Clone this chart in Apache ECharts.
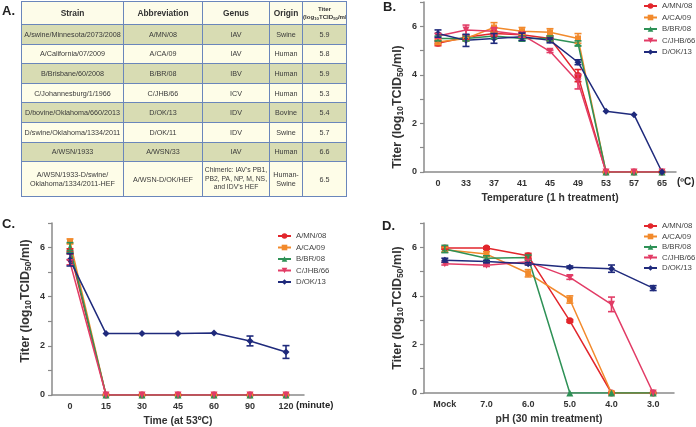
<!DOCTYPE html>
<html>
<head>
<meta charset="utf-8">
<script src="https://cdn.jsdelivr.net/npm/echarts@6/dist/echarts.min.js"></script>
<style>
  html, body { margin: 0; padding: 0; background: #fff; }
  #chart { position: absolute; left: 0; top: 0; width: 696px; height: 427px; }
  #tbl { position: absolute; left: 21px; top: 1px; width: 325px; border-collapse: collapse; table-layout: fixed;
         font-family: 'Liberation Sans', Arial, sans-serif; color: #3a3a3a; font-size: 7.2px;
         border: 1.5px solid #6a86bb; }
  #tbl td, #tbl th { border: 1px solid #6a86bb; text-align: center; padding: 0; line-height: 1.25; white-space: pre; overflow: hidden; }
  #tbl th { background: #fdfce9; font-weight: bold; font-size: 8.4px; height: 22px; color: #333; }
  #tbl th.titer { font-size: 6.1px; line-height: 1.2; }
  #tbl td.small { font-size: 6.8px; }
  #tbl sub { font-size: 70%; vertical-align: -1px; }
  #tbl tr.odd td { background: #d8dcb3; }
  #tbl tr.even td { background: #fefde8; }
  #tbl td { height: 18.6px; }
  #tbl tr.tall td { height: 34px; }
</style>
</head>
<body>
<div id="chart"></div>
<table id="tbl"></table>
<script>
// ---- Panel A table ----
var tableHeads = ['Strain', 'Abbreviation', 'Genus', 'Origin', 'Titer\n(log<sub>10</sub>TCID<sub>50</sub>/ml)'];
var colWidths = [102, 79, 67, 33, 44];
var strains = ['A/swine/Minnesota/2073/2008', 'A/California/07/2009', 'B/Brisbane/60/2008', 'C/Johannesburg/1/1966',
  'D/bovine/Oklahoma/660/2013', 'D/swine/Oklahoma/1334/2011', 'A/WSN/1933', 'A/WSN/1933-D/swine/\nOklahoma/1334/2011-HEF'];
var abbrevs = ['A/MN/08', 'A/CA/09', 'B/BR/08', 'C/JHB/66', 'D/OK/13', 'D/OK/11', 'A/WSN/33', 'A/WSN-D/OK/HEF'];
var genera = ['IAV', 'IAV', 'IBV', 'ICV', 'IDV', 'IDV', 'IAV', "Chimeric: IAV's PB1,\nPB2, PA, NP, M, NS,\nand IDV's HEF"];
var origins = ['Swine', 'Human', 'Human', 'Human', 'Bovine', 'Swine', 'Human', 'Human-\nSwine'];
var titers = ['5.9', '5.8', '5.9', '5.3', '5.4', '5.7', '6.6', '6.5'];

(function() {
  var t = document.getElementById('tbl');
  var html = '<colgroup>' + colWidths.map(function(w) { return '<col style="width:' + w + 'px">'; }).join('') + '</colgroup>';
  html += '<tr>' + tableHeads.map(function(h, i) {
    return '<th' + (i === 4 ? ' class="titer"' : '') + '>' + h + '</th>';
  }).join('') + '</tr>';
  strains.forEach(function(s, i) {
    var last = i === strains.length - 1;
    var cls = (i % 2 === 0 ? 'odd' : 'even') + (last ? ' tall' : '');
    html += '<tr class="' + cls + '"><td>' + s + '</td><td>' + abbrevs[i] + '</td><td' + (last ? ' class="small"' : '') + '>' +
      genera[i] + '</td><td>' + origins[i] + '</td><td>' + titers[i] + '</td></tr>';
  });
  t.innerHTML = html;
})();

// ---- Panels B, C, D ----
var names = ['A/MN/08', 'A/CA/09', 'B/BR/08', 'C/JHB/66', 'D/OK/13'];
var colors = ['#e2262c', '#f28a2c', '#2e9156', '#e23c66', '#1f2a7c'];
var symbols = ['circle', 'rect', 'triangle', 'triangle', 'diamond'];
var symbolRot = [0, 0, 0, 180, 0];

// B: temperature
var tempCats = ['0', '33', '37', '41', '45', '49', '53', '57', '65'];
var tempMN  = [5.3, 5.55, 5.7, 5.65, 5.5, 3.97, 0, 0, 0];
var tempCA  = [5.35, 5.5, 5.95, 5.8, 5.75, 5.5, 0, 0, 0];
var tempBR  = [5.5, 5.5, 5.6, 5.5, 5.5, 5.3, 0, 0, 0];
var tempJHB = [5.6, 5.85, 5.8, 5.65, 4.97, 3.72, 0, 0, 0];
var tempOK  = [5.7, 5.42, 5.5, 5.57, 5.42, 4.52, 2.5, 2.36, 0];
var tempErrMN  = [0.1, 0.1, 0.1, 0.1, 0.1, 0.25, 0, 0, 0];
var tempErrCA  = [0.1, 0.1, 0.2, 0.15, 0.15, 0.2, 0, 0, 0];
var tempErrBR  = [0.1, 0.1, 0.1, 0.1, 0.1, 0.1, 0, 0, 0];
var tempErrJHB = [0.1, 0.2, 0.15, 0.1, 0.05, 0.3, 0, 0, 0];
var tempErrOK  = [0.15, 0.25, 0.2, 0.15, 0.1, 0.1, 0, 0, 0];

// C: time at 53C
var timeCats = ['0', '15', '30', '45', '60', '90', '120'];
var timeMN  = [5.85, 0, 0, 0, 0, 0, 0];
var timeCA  = [6.25, 0, 0, 0, 0, 0, 0];
var timeBR  = [6.0, 0, 0, 0, 0, 0, 0];
var timeJHB = [5.4, 0, 0, 0, 0, 0, 0];
var timeOK  = [5.5, 2.5, 2.5, 2.5, 2.52, 2.2, 1.75];
var timeErrMN  = [0.1, 0, 0, 0, 0, 0, 0];
var timeErrCA  = [0.1, 0, 0, 0, 0, 0, 0];
var timeErrBR  = [0.2, 0, 0, 0, 0, 0, 0];
var timeErrJHB = [0.1, 0, 0, 0, 0, 0, 0];
var timeErrOK  = [0.25, 0, 0, 0, 0, 0.2, 0.26];

// D: pH
var phCats = ['Mock', '7.0', '6.0', '5.0', '4.0', '3.0'];
var phMN  = [5.97, 5.97, 5.65, 2.97, 0, 0];
var phCA  = [5.9, 5.72, 4.93, 3.85, 0, 0];
var phBR  = [5.93, 5.55, 5.58, 0, 0, 0];
var phJHB = [5.32, 5.26, 5.4, 4.76, 3.65, 0];
var phOK  = [5.47, 5.41, 5.32, 5.18, 5.12, 4.32];
var phErrMN  = [0.05, 0.05, 0.1, 0.05, 0, 0];
var phErrCA  = [0.1, 0.1, 0.15, 0.15, 0, 0];
var phErrBR  = [0.15, 0.1, 0.1, 0, 0, 0];
var phErrJHB = [0.05, 0.05, 0.1, 0.08, 0.3, 0];
var phErrOK  = [0.08, 0.05, 0.05, 0.05, 0.15, 0.1];

var font = 'Liberation Sans, Arial, sans-serif';
var axisGray = '#8a8a8a';

function errRender(color) {
  return function(params, api) {
    var x = api.value(0), y = api.value(1), e = api.value(2);
    if (!e) return;
    var top = api.coord([x, y + e]), bot = api.coord([x, y - e]);
    var w = 3.5;
    var st = { stroke: color, lineWidth: 1.6 };
    return { type: 'group', children: [
      { type: 'line', shape: { x1: top[0], y1: top[1], x2: bot[0], y2: bot[1] }, style: st },
      { type: 'line', shape: { x1: top[0] - w, y1: top[1], x2: top[0] + w, y2: top[1] }, style: st },
      { type: 'line', shape: { x1: bot[0] - w, y1: bot[1], x2: bot[0] + w, y2: bot[1] }, style: st }
    ] };
  };
}

var series = [];
function addPanel(idx, vals, errs) {
  vals.forEach(function(v, i) {
    series.push({
      name: names[i], type: 'line', xAxisIndex: idx, yAxisIndex: idx,
      data: v, symbol: symbols[i], symbolRotate: symbolRot[i], symbolSize: i === 1 ? 6 : 7,
      lineStyle: { width: 1.5, color: colors[i] }, itemStyle: { color: colors[i] },
      animation: false, z: 3
    });
    series.push({
      name: 'err ' + names[i], type: 'custom', xAxisIndex: idx, yAxisIndex: idx,
      data: v.map(function(y, j) { return [j, y, errs[i][j]]; }),
      encode: { x: 0, y: 1 }, renderItem: errRender(colors[i]), animation: false, z: 4, silent: true
    });
  });
}
addPanel(0, [tempMN, tempCA, tempBR, tempJHB, tempOK], [tempErrMN, tempErrCA, tempErrBR, tempErrJHB, tempErrOK]);
addPanel(1, [timeMN, timeCA, timeBR, timeJHB, timeOK], [timeErrMN, timeErrCA, timeErrBR, timeErrJHB, timeErrOK]);
addPanel(2, [phMN, phCA, phBR, phJHB, phOK], [phErrMN, phErrCA, phErrBR, phErrJHB, phErrOK]);

function xAx(idx, cats, title) {
  return {
    type: 'category', gridIndex: idx, data: cats, boundaryGap: true,
    axisLine: { lineStyle: { color: axisGray, width: 1.5 } },
    axisTick: { alignWithLabel: true, length: 4, lineStyle: { color: axisGray, width: 1.2 } },
    axisLabel: { color: '#333', fontSize: 9, fontWeight: 'bold', fontFamily: font, margin: 7, interval: 0 },
    name: title, nameLocation: 'middle', nameGap: 21,
    nameTextStyle: { color: '#333', fontSize: 10.4, fontWeight: 'bold', fontFamily: font }
  };
}
function yAx(idx, padR, padL) {
  return {
    type: 'value', gridIndex: idx, min: 0, max: 7, interval: 1,
    axisLine: { show: true, lineStyle: { color: axisGray, width: 1.5 } },
    axisTick: { show: true, length: 4, lineStyle: { color: axisGray, width: 1.2 } },
    splitLine: { show: false },
    axisLabel: { color: '#333', fontSize: 9, fontWeight: 'bold', fontFamily: font, margin: 7,
      formatter: function(v) { return v % 2 === 0 ? v : ''; } },
    name: '{t|Titer (log}{s|10}{t|TCID}{s|50}{t|/ml)}', nameLocation: 'middle', nameGap: 19,
    nameTextStyle: { padding: [0, padR, 0, padL], rich: {
      t: { fontSize: 12.5, fontWeight: 'bold', color: '#333', fontFamily: font, lineHeight: 15 },
      s: { fontSize: 8.5, fontWeight: 'bold', color: '#333', fontFamily: font, verticalAlign: 'bottom' }
    } }
  };
}
function leg(left, top, gap) {
  return {
    data: names, orient: 'vertical', left: left, top: top, itemWidth: 13, itemHeight: 7, itemGap: gap,
    textStyle: { fontSize: 7.8, color: '#444', fontFamily: font }, padding: 0
  };
}
function label(txt, x, y, size, weight) {
  return { type: 'text', left: x, top: y,
    style: { text: txt, fill: '#222', font: (weight || 'normal') + ' ' + size + 'px ' + font } };
}

var chart = echarts.init(document.getElementById('chart'), null, { renderer: 'canvas' });
chart.setOption({
  backgroundColor: '#fff',
  animation: false,
  grid: [
    { left: 424, top: 2, width: 252, height: 170 },
    { left: 52, top: 223, width: 252, height: 172 },
    { left: 424, top: 223, width: 250, height: 170 }
  ],
  xAxis: [
    xAx(0, tempCats, 'Temperature (1 h treatment)'),
    xAx(1, timeCats, 'Time (at 53ºC)'),
    xAx(2, phCats, 'pH (30 min treatment)')
  ],
  yAxis: [yAx(0, 40, 0), yAx(1, 0, 16), yAx(2, 0, 0)],
  legend: [leg(643, 2, 3.5), leg(277, 232, 3.5), leg(643, 222, 2.5)],
  graphic: [
    label('A.', 2, 5, 13, 'bold'),
    label('B.', 383, 1, 13, 'bold'),
    label('C.', 2, 218, 13, 'bold'),
    label('D.', 382, 220, 13, 'bold'),
    label('(ºC)', 677, 177, 10, 'bold'),
    label('(minute)', 296, 400, 9.5, 'bold')
  ],
  series: series
});
window.addEventListener('resize', function() { chart.resize(); });
</script>
</body>
</html>
